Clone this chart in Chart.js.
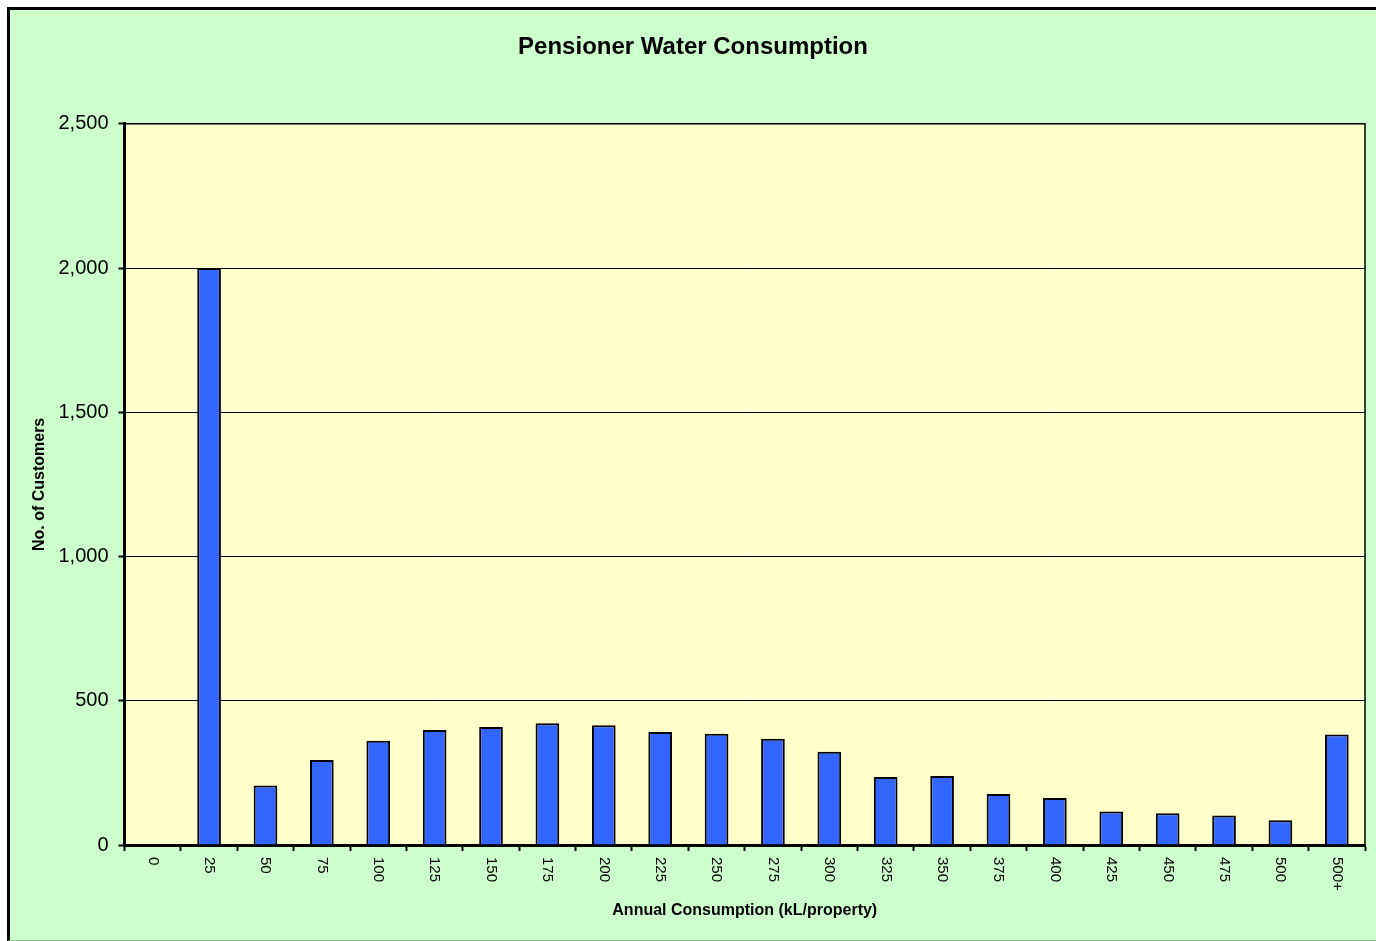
<!DOCTYPE html>
<html>
<head>
<meta charset="utf-8">
<script src="https://cdn.jsdelivr.net/npm/chart.js@4/dist/chart.umd.min.js"></script>
<style>
  html, body { margin: 0; padding: 0; background: #fff; overflow: hidden; }
  #frame {
    position: absolute; left: 7px; top: 7px;
    width: 1366px; height: 930px;
    border-left: 3px solid #000; border-top: 3px solid #000;
    border-bottom: 1px solid #8fbf8f;
    background: #ccffcc;
  }
  canvas { display: block; }
</style>
</head>
<body>
<div id="frame"><canvas id="waterChart" width="1366" height="930"></canvas></div>
<script>
const categories = ['0', '25', '50', '75', '100', '125', '150', '175', '200', '225', '250',
  '275', '300', '325', '350', '375', '400', '425', '450', '475', '500', '500+'];
const customers = [0, 2000, 206, 295, 361, 399, 409, 422, 415, 392, 386,
  368, 323, 236, 239, 177, 163, 116, 110, 102, 86, 383];

const FONT = "'Liberation Sans', Arial, sans-serif";

// plot background + thin frame round the plot area
const plotBox = {
  id: 'plotBox',
  beforeDraw(chart) {
    const { ctx, chartArea: a } = chart;
    ctx.save();
    ctx.fillStyle = '#ffffcc';
    ctx.fillRect(a.left, a.top, a.right - a.left, a.bottom - a.top);
    ctx.strokeStyle = '#000';
    ctx.lineWidth = 1.5;
    ctx.strokeRect(a.left, a.top, a.right - a.left, a.bottom - a.top);
    ctx.restore();
  }
};

// x labels read top to bottom (rotated clockwise), like the Excel original
const xLabels = {
  id: 'xLabels',
  afterDraw(chart) {
    const { ctx, scales: { x } } = chart;
    ctx.save();
    ctx.font = '15px ' + FONT;
    ctx.fillStyle = '#000';
    ctx.textAlign = 'left';
    ctx.textBaseline = 'middle';
    categories.forEach((lab, i) => {
      ctx.save();
      ctx.translate(x.getPixelForTick(i), chart.chartArea.bottom + 12);
      ctx.rotate(Math.PI / 2);
      ctx.fillText(lab, 0, 0);
      ctx.restore();
    });
    ctx.restore();
  }
};

new Chart(document.getElementById('waterChart').getContext('2d'), {
  type: 'bar',
  data: {
    labels: categories,
    datasets: [{
      data: customers,
      backgroundColor: '#3366ff',
      borderColor: '#000',
      borderWidth: 2,
      categoryPercentage: 1,
      barPercentage: 0.42
    }]
  },
  options: {
    responsive: false,
    animation: false,
    devicePixelRatio: 1,
    layout: { padding: 0 },
    plugins: {
      legend: { display: false },
      tooltip: { enabled: false },
      title: {
        display: true,
        text: 'Pensioner Water Consumption',
        color: '#000',
        font: { family: FONT, size: 24, weight: 'bold' },
        padding: { top: 23, bottom: 62 }
      }
    },
    scales: {
      x: {
        grid: { display: true, drawOnChartArea: false, offset: true, tickLength: 6, tickWidth: 2, tickColor: '#000' },
        border: { display: true, color: '#000', width: 3 },
        ticks: { display: false },
        title: {
          display: true,
          text: 'Annual Consumption (kL/property)',
          color: '#000',
          font: { family: FONT, size: 16, weight: 'bold' },
          padding: { top: 0, bottom: 20 }
        },
        afterFit(scale) { scale.height = 95; }
      },
      y: {
        min: 0,
        max: 2500,
        ticks: { stepSize: 500, color: '#000', padding: 10, font: { family: FONT, size: 20 } },
        grid: { color: '#000', lineWidth: 1, tickLength: 6, tickWidth: 2, tickColor: '#000' },
        border: { display: true, color: '#000', width: 3 },
        title: {
          display: true,
          text: 'No. of Customers',
          color: '#000',
          font: { family: FONT, size: 16, weight: 'bold' },
          padding: { top: 20, bottom: 0 }
        },
        afterFit(scale) { scale.width = 114.5; }
      },
      // empty right axis, only keeps the gap on the right of the plot
      yRight: {
        position: 'right',
        min: 0,
        max: 2500,
        ticks: { display: false },
        grid: { display: false },
        border: { display: false },
        afterFit(scale) { scale.width = 11; }
      }
    }
  },
  plugins: [plotBox, xLabels]
});
</script>
</body>
</html>
